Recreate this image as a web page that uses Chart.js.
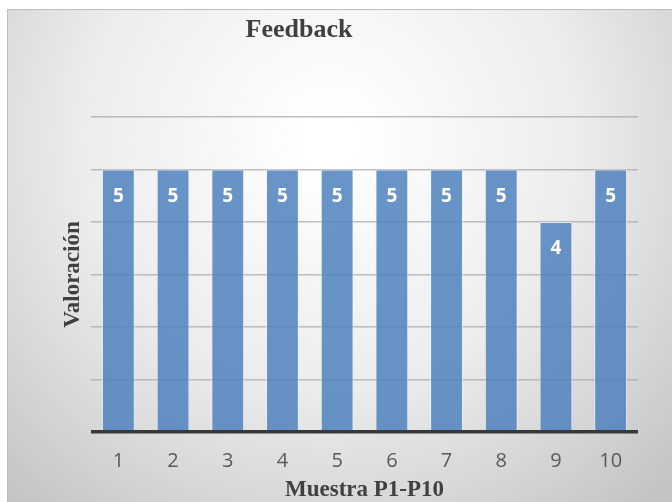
<!DOCTYPE html>
<html>
<head>
<meta charset="utf-8">
<script src="https://cdn.jsdelivr.net/npm/chart.js@4/dist/chart.umd.min.js"></script>
<style>
html,body{margin:0;padding:0;background:#fff;}
#wrap{width:672px;height:502px;position:relative;}
</style>
</head>
<body>
<div id="wrap"><canvas id="c" width="672" height="502"></canvas></div>
<script>
const categories = ['1','2','3','4','5','6','7','8','9','10'];
const valores = [5,5,5,5,5,5,5,5,4,5];
const chartTitle = 'Feedback';
const xTitle = 'Muestra P1-P10';
const yTitle = 'Valoración';

const bgPlugin = {
  id: 'bg',
  beforeDraw(chart) {
    const ctx = chart.ctx;
    ctx.save();
    const g = ctx.createRadialGradient(330, 140, 20, 330, 140, 480);
    g.addColorStop(0, '#ffffff');
    g.addColorStop(0.5, '#ececec');
    g.addColorStop(1, '#c4c4c4');
    ctx.fillStyle = g;
    ctx.fillRect(7, 9, 665, 493);
    ctx.strokeStyle = '#bdbdbd';
    ctx.lineWidth = 1;
    ctx.beginPath();
    ctx.moveTo(7.5, 502);
    ctx.lineTo(7.5, 9.5);
    ctx.lineTo(672, 9.5);
    ctx.stroke();
    ctx.restore();
  }
};

const textPlugin = {
  id: 'texts',
  afterDraw(chart) {
    const ctx = chart.ctx;
    const a = chart.chartArea;
    ctx.save();
    ctx.fillStyle = '#404040';
    ctx.textAlign = 'center';
    ctx.textBaseline = 'middle';
    ctx.font = 'bold 26px "Liberation Serif", "Times New Roman", serif';
    ctx.fillText(chartTitle, 299, 30);
    ctx.font = 'bold 23px "Liberation Serif", "Times New Roman", serif';
    ctx.fillText(xTitle, (a.left + a.right) / 2, 490);
    ctx.translate(73, (a.top + a.bottom) / 2);
    ctx.rotate(-Math.PI / 2);
    ctx.fillText(yTitle, 0, 0);
    ctx.restore();
    // data labels
    const meta = chart.getDatasetMeta(0);
    ctx.save();
    ctx.fillStyle = '#ffffff';
    ctx.font = 'bold 19px "Open Sans", "Liberation Sans", sans-serif';
    ctx.textAlign = 'center';
    ctx.textBaseline = 'middle';
    meta.data.forEach((bar, i) => {
      ctx.fillText(String(valores[i]), bar.x, bar.y + 27);
    });
    ctx.restore();
  }
};

new Chart(document.getElementById('c'), {
  type: 'bar',
  data: {
    labels: categories,
    datasets: [{
      data: valores,
      backgroundColor: 'rgba(79,129,189,0.85)',
      borderColor: 'rgba(235,240,248,0.8)',
      borderWidth: 1,
      barPercentage: 0.6,
      categoryPercentage: 1
    }]
  },
  options: {
    responsive: false,
    animation: false,
    devicePixelRatio: 1,
    layout: { padding: { left: 0, right: 34, top: 117, bottom: 0 } },
    plugins: { legend: { display: false }, tooltip: { enabled: false }, title: { display: false } },
    scales: {
      x: {
        grid: { display: false, drawTicks: false },
        border: { display: false },
        ticks: {
          color: '#595959',
          padding: 17,
          font: { family: '"Open Sans", "Liberation Sans", sans-serif', size: 20 }
        },
        afterFit(s) { s.height = 70; }
      },
      y: {
        min: 0, max: 6,
        ticks: { display: false, stepSize: 1 },
        border: { display: false },
        grid: {
          drawTicks: false,
          color: (c) => c.tick && c.tick.value === 0 ? '#383838' : 'rgba(170,170,170,0.75)',
          lineWidth: (c) => c.tick && c.tick.value === 0 ? 3.5 : 1.5
        },
        afterFit(s) { s.width = 91; }
      }
    }
  },
  plugins: [bgPlugin, textPlugin]
});
</script>
</body>
</html>
